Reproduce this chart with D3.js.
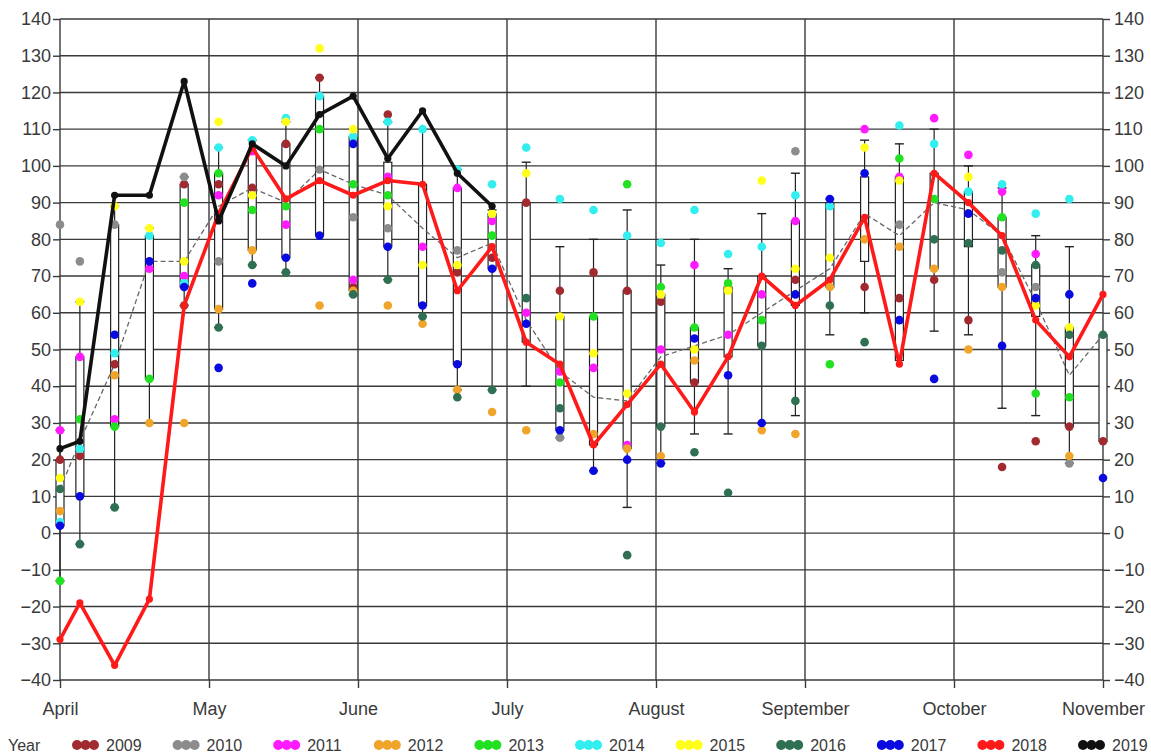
<!DOCTYPE html>
<html><head><meta charset="utf-8">
<script src="https://cdn.jsdelivr.net/npm/d3@7/dist/d3.min.js"></script>
<style>
body{margin:0;background:#fff}
svg{display:block}
text{font-family:"Liberation Sans",Arial,Helvetica,sans-serif;fill:#3a3a3a}
</style>
</head><body>
<svg id="chart" width="1151" height="753"></svg>
<script>
// ---------- DATA ----------
const weekDates = ["2019-04-01","2019-04-05","2019-04-12","2019-04-19","2019-04-26","2019-05-03","2019-05-10","2019-05-17","2019-05-24","2019-05-31",
  "2019-06-07","2019-06-14","2019-06-21","2019-06-28","2019-07-05","2019-07-12","2019-07-19","2019-07-26","2019-08-02","2019-08-09",
  "2019-08-16","2019-08-23","2019-08-30","2019-09-06","2019-09-13","2019-09-20","2019-09-27","2019-10-04","2019-10-11","2019-10-18",
  "2019-10-25","2019-11-01"];
const monthStarts = ["2019-04-01","2019-05-01","2019-06-01","2019-07-01","2019-08-01","2019-09-01","2019-10-01","2019-11-01"];
const monthLabels = ["April","May","June","July","August","September","October","November"];
const yTickValues = [-40,-30,-20,-10,0,10,20,30,40,50,60,70,80,90,100,110,120,130,140];
const years = ["2009","2010","2011","2012","2013","2014","2015","2016","2017","2018","2019"];

const y2009 = [20,21,46,null,95,95,94,106,124,67,114,null,71,75,90,66,71,66,63,41,null,null,69,null,67,64,69,58,18,25,29,25];
const y2010 = [84,74,84,null,97,74,null,null,99,86,83,null,77,null,null,26,null,null,null,null,null,null,104,null,null,84,null,null,71,67,19,null];
const y2011 = [28,48,31,72,70,92,104,84,null,69,97,78,94,85,60,44,45,24,50,73,54,65,85,null,110,97,113,103,93,76,null,null];
const y2012 = [6,null,43,30,30,61,77,null,62,66,62,57,39,33,28,null,27,23,21,47,67,28,27,67,80,78,72,50,67,null,21,null];
const y2013 = [-13,31,29,42,90,98,88,89,110,95,92,null,null,81,null,41,59,95,67,56,68,58,null,46,null,102,91,null,86,38,37,null];
const y2014 = [3,23,49,81,68,105,107,113,119,108,112,110,99,95,105,91,88,81,79,88,76,78,92,89,null,111,106,93,95,87,91,null];
const y2015 = [15,63,89,83,74,112,92,112,132,110,89,73,73,87,98,59,49,38,65,50,66,96,72,75,105,96,null,97,null,62,56,null];
const y2016 = [12,-3,7,null,62,56,73,71,null,65,69,59,37,39,64,34,null,-6,29,22,11,51,36,62,52,null,80,79,77,73,54,54];
const y2017 = [2,10,54,74,67,45,68,75,81,106,78,62,46,72,57,28,17,20,19,53,43,30,65,91,98,58,42,87,51,64,65,15];
const y2018 = [-29,-19,-36,-18,62,87,105,91,96,92,96,95,66,78,52,46,24,35,46,33,48,70,62,69,86,46,98,90,81,58,48,65];
const y2019 = [23,25,92,92,123,85,106,100,114,119,102,115,98,89];

const boxLow      = [2,10,29,42,67,61,77,75,81,66,78,62,46,72,52,28,24,23,29,41,48,51,62,67,74,47,72,78,67,59,29,25];
const boxHigh     = [20,48,84,81,95,98,104,106,119,108,101,95,94,87,90,59,59,66,65,56,67,70,85,90,97,97,98,93,86,73,56,54];
const whiskerLow  = [-13,-3,7,30,62,56,73,71,81,65,69,59,39,39,40,26,17,7,19,27,27,30,32,54,60,47,55,54,34,32,19,25];
const whiskerHigh = [28,63,89,83,97,105,107,112,124,110,112,110,99,88,101,78,80,88,73,80,72,87,98,91,107,106,110,100,94,81,78,54];
const median      = [12,25,46,74,74,89,94,90,99,95,92,83,75,79,58,44,37,36,48,51,54,60,66,72,87,81,90,88,81,63,43,54];

const yearColors = ["#a02a30","#8c8c8c","#ff1aff","#f0a42a","#22e022","#33eeee","#ffff1a","#2f6f52","#0a0ae0","#ff1a1a","#111111"];

(function(){
// ---------- LAYOUT ----------
const mLeft = 60, mRight = 1103, mTop = 19, mBottom = 680;
const parse = d3.utcParse("%Y-%m-%d");
const dates = weekDates.map(parse);
const months = monthStarts.map(parse);

const x = d3.scaleUtc()
  .domain(months)
  .range(months.map((d,i)=> mLeft + i*(mRight-mLeft)/(months.length-1)));
const y = d3.scaleLinear().domain([-40,140]).range([mBottom, mTop]);

const svg = d3.select("#chart");
const gridColor = "#3a3a3a";

svg.append("g").selectAll("line").data(yTickValues).join("line")
  .attr("x1", mLeft).attr("x2", mRight)
  .attr("y1", d=>y(d)).attr("y2", d=>y(d))
  .attr("stroke", gridColor).attr("stroke-width", 1.4);
svg.append("g").selectAll("line").data(months).join("line")
  .attr("x1", d=>x(d)).attr("x2", d=>x(d))
  .attr("y1", mTop).attr("y2", mBottom)
  .attr("stroke", gridColor).attr("stroke-width", 1.4);

function styleAxis(g){
  g.select(".domain").remove();
  g.selectAll(".tick line").attr("stroke", gridColor).attr("stroke-width",1.4);
  g.selectAll(".tick text").attr("fill","#3a3a3a").style("font-size","18px")
    .style("font-family",'"Liberation Sans",Arial,sans-serif');
}
svg.append("g").attr("transform",`translate(${mLeft},0)`)
  .call(d3.axisLeft(y).tickValues(yTickValues).tickSize(7).tickPadding(2).tickFormat(d3.format("d")))
  .call(styleAxis);
svg.append("g").attr("transform",`translate(${mRight},0)`)
  .call(d3.axisRight(y).tickValues(yTickValues).tickSize(7).tickPadding(4).tickFormat(d3.format("d")))
  .call(styleAxis);
svg.append("g").attr("transform",`translate(0,${mBottom})`)
  .call(d3.axisBottom(x).tickValues(months).tickSize(8).tickPadding(14).tickFormat((d,i)=>monthLabels[i]))
  .call(styleAxis);

const stats = dates.map((d,i)=>({d, lo:boxLow[i], hi:boxHigh[i], wl:whiskerLow[i], wh:whiskerHigh[i], med:median[i]}));
const bw = 8, cap = 9;
const gBox = svg.append("g");
gBox.selectAll("line.wh").data(stats).join("line").attr("class","wh")
  .attr("x1", s=>x(s.d)).attr("x2", s=>x(s.d))
  .attr("y1", s=>y(s.wl)).attr("y2", s=>y(s.wh))
  .attr("stroke","#222").attr("stroke-width",1.2);
gBox.selectAll("line.caphi").data(stats.filter(s=>s.wh>s.hi)).join("line").attr("class","caphi")
  .attr("x1", s=>x(s.d)-cap/2).attr("x2", s=>x(s.d)+cap/2)
  .attr("y1", s=>y(s.wh)).attr("y2", s=>y(s.wh))
  .attr("stroke","#222").attr("stroke-width",1.4);
gBox.selectAll("line.caplo").data(stats.filter(s=>s.wl<s.lo)).join("line").attr("class","caplo")
  .attr("x1", s=>x(s.d)-cap/2).attr("x2", s=>x(s.d)+cap/2)
  .attr("y1", s=>y(s.wl)).attr("y2", s=>y(s.wl))
  .attr("stroke","#222").attr("stroke-width",1.4);
gBox.selectAll("rect").data(stats).join("rect")
  .attr("x", s=>x(s.d)-bw/2).attr("width", bw)
  .attr("y", s=>y(s.hi)).attr("height", s=>y(s.lo)-y(s.hi))
  .attr("fill","#fff").attr("stroke","#222").attr("stroke-width",1.2);

svg.append("path").datum(stats)
  .attr("d", d3.line().x(s=>x(s.d)).y(s=>y(s.med)))
  .attr("fill","none").attr("stroke","#666").attr("stroke-width",1.3)
  .attr("stroke-dasharray","5,3");

const dotSeries = [y2009,y2010,y2011,y2012,y2013,y2014,y2015,y2016,y2017];
const gDots = svg.append("g");
dotSeries.forEach((arr,k)=>{
  const pts = arr.map((v,i)=>({d:dates[i], v})).filter(p=>p.v!==null);
  gDots.append("g").selectAll("circle").data(pts).join("circle")
    .attr("cx", p=>x(p.d)).attr("cy", p=>y(p.v)).attr("r", 4.3)
    .attr("fill", yearColors[k]);
});

function drawLine(arr, color){
  const pts = arr.map((v,i)=>({d:dates[i], v}));
  svg.append("path").datum(pts)
    .attr("d", d3.line().x(p=>x(p.d)).y(p=>y(p.v)))
    .attr("fill","none").attr("stroke",color).attr("stroke-width",3.6)
    .attr("stroke-linejoin","round");
  svg.append("g").selectAll("circle").data(pts).join("circle")
    .attr("cx", p=>x(p.d)).attr("cy", p=>y(p.v)).attr("r", 3.6).attr("fill", color);
}
drawLine(y2018, yearColors[9]);
drawLine(y2019, yearColors[10]);

const lg = svg.append("g");
const legendY = 745;
lg.append("text").attr("x", 8).attr("y", 751).style("font-size","16px").text("Year");
years.forEach((yr,i)=>{
  const x0 = 72 + i*100.6;
  const g = lg.append("g");
  [5,13.5,22].forEach(o=>{
    g.append("circle").attr("cx", x0+o).attr("cy", legendY).attr("r", 5).attr("fill", yearColors[i]);
  });
  g.append("text").attr("x", x0+34).attr("y", 751).style("font-size","16px").text(yr);
});
})();
</script>
</body></html>
